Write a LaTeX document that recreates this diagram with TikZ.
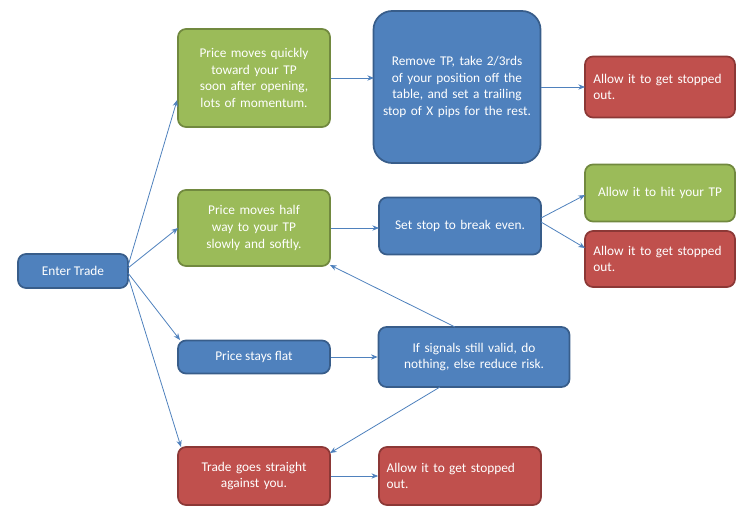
\documentclass[tikz,border=0pt]{standalone}
\usepackage{fontspec}
\setmainfont{Carlito}
\usetikzlibrary{arrows.meta}
\definecolor{gf}{HTML}{9BBB59}\definecolor{gb}{HTML}{71893F}
\definecolor{bf}{HTML}{4F81BD}\definecolor{bb}{HTML}{385D8A}
\definecolor{rf}{HTML}{C0504D}\definecolor{rb}{HTML}{8C3836}
\begin{document}
\begin{tikzpicture}[x=0.75pt,y=-0.75pt,
 box/.style={draw,line width=1.3pt,rounded corners=6pt,text=white,font=\fontsize{10}{12.5}\selectfont,align=center,inner sep=2pt},
 g/.style={box,fill=gf,draw=gb},b/.style={box,fill=bf,draw=bb},r/.style={box,fill=rf,draw=rb},
 ar/.style={draw=bf,line width=0.6pt,-{Stealth[length=5pt,width=4pt]}}]
\useasboundingbox (0,0) rectangle (752,524);
\node[b,minimum width=110*0.75pt,minimum height=34*0.75pt] (et) at (73,271) {Enter Trade};
\node[g,minimum width=152*0.75pt,minimum height=98*0.75pt,text width=105pt] (g1) at (254,78) {Price moves quickly toward your TP soon after opening, lots of momentum.};
\node[b,rounded corners=14pt,minimum width=167*0.75pt,minimum height=152*0.75pt,text width=112pt] (b1) at (457,87) {Remove TP, take 2/3rds of your position off the table, and set a trailing stop of X pips for the rest.};
\node[r,minimum width=150*0.75pt,minimum height=61*0.75pt,text width=100pt,align=left] (r1) at (660,87) {Allow it to get stopped out.};
\node[g,minimum width=152*0.75pt,minimum height=76*0.75pt,text width=100pt] (g2) at (254,228) {Price moves half way to your TP slowly and softly.};
\node[b,minimum width=162*0.75pt,minimum height=57*0.75pt,text width=110pt] (b2) at (460,226) {Set stop to break even.};
\node[g,minimum width=150*0.75pt,minimum height=57*0.75pt,text width=100pt] (g3) at (660,193) {Allow it to hit your TP};
\node[r,minimum width=150*0.75pt,minimum height=56*0.75pt,text width=100pt,align=left] (r2) at (660,259) {Allow it to get stopped out.};
\node[b,minimum width=152*0.75pt,minimum height=33*0.75pt] (b3) at (254,357) {Price stays flat};
\node[b,minimum width=191*0.75pt,minimum height=60*0.75pt,text width=130pt] (b4) at (474,357) {If signals still valid, do nothing, else reduce risk.};
\node[r,minimum width=152*0.75pt,minimum height=58*0.75pt,text width=105pt] (r3) at (254,476) {Trade goes straight against you.};
\node[r,minimum width=162*0.75pt,minimum height=58*0.75pt,text width=110pt,align=left] (r4) at (460,476) {Allow it to get stopped out.};
\coordinate (e1) at (128,266);\coordinate (e2) at (128,268);\coordinate (e3) at (128,273);\coordinate (e4) at (128,276);
\draw[ar] (e1) -- (g1.south west |- 0,100);
\draw[ar] (e2) -- (178,228);
\draw[ar] (e3) -- (180,340);
\draw[ar] (e4) -- (181,447);
\draw[ar] (g1.east |- 0,78) -- (374,78);
\draw[ar] (b1.east |- 0,87) -- (585,87);
\draw[ar] (g2.east |- 0,228) -- (379,228);
\draw[ar] (541,218) -- (585,195);
\draw[ar] (541,222) -- (585,248);
\draw[ar] (b3) -- (b4);
\draw[ar] (455,327) -- (330,265);
\draw[ar] (440,387) -- (330,453);
\draw[ar] (r3) -- (r4);
\end{tikzpicture}
\end{document}
